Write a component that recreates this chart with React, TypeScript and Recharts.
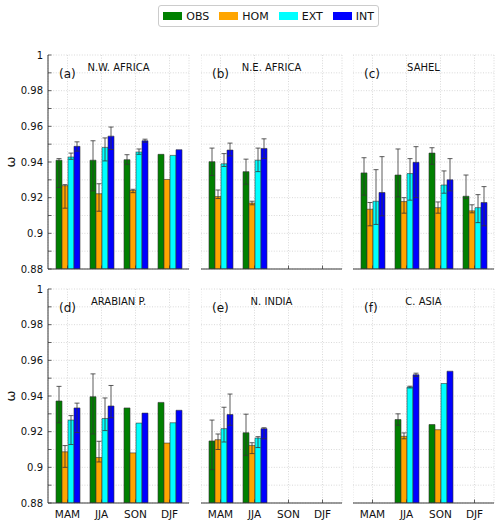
import React from 'react';
import { BarChart, Bar, XAxis, YAxis, CartesianGrid, ErrorBar } from 'recharts';

const seasons = ['MAM', 'JJA', 'SON', 'DJF'];
const seriesNames = ['OBS', 'HOM', 'EXT', 'INT'];
const seriesColors = ['#008000', '#FFA500', '#00FFFF', '#0000FF'];
const yTicks = [0.88, 0.89, 0.9, 0.91, 0.92, 0.93, 0.94, 0.95, 0.96, 0.97, 0.98, 0.99, 1];

type N = number | null;

// (a) N.W. AFRICA
const nwAfricaVal: N[][] = [
  [0.941, 0.941, 0.9413, 0.9443],
  [0.9267, 0.9222, 0.924, 0.9302],
  [0.9428, 0.9482, 0.9456, 0.9437],
  [0.9488, 0.9545, 0.9519, 0.9469],
];
const nwAfricaLow: N[][] = [
  [0.9257, 0.9238, 0.9387, null],
  [0.9141, 0.9124, 0.9228, null],
  [0.9415, 0.9406, 0.9443, null],
  [0.9461, 0.947, 0.9511, null],
];
const nwAfricaHigh: N[][] = [
  [0.9419, 0.9519, 0.9441, null],
  [0.9273, 0.9278, 0.9247, null],
  [0.945, 0.9535, 0.9473, null],
  [0.9513, 0.9596, 0.9528, null],
];

// (b) N.E. AFRICA
const neAfricaVal: N[][] = [
  [0.9402, 0.9346, null, null],
  [0.9206, 0.917, null, null],
  [0.939, 0.941, null, null],
  [0.9467, 0.9476, null, null],
];
const neAfricaLow: N[][] = [
  [0.9324, 0.9275, null, null],
  [0.9195, 0.916, null, null],
  [0.9375, 0.9346, null, null],
  [0.9434, 0.942, null, null],
];
const neAfricaHigh: N[][] = [
  [0.9478, 0.9416, null, null],
  [0.9243, 0.918, null, null],
  [0.9447, 0.9478, null, null],
  [0.9506, 0.953, null, null],
];

// (c) SAHEL
const sahelVal: N[][] = [
  [0.9339, 0.9327, 0.945, 0.9208],
  [0.9135, 0.9178, 0.9144, 0.9126],
  [0.918, 0.9335, 0.9271, 0.9144],
  [0.9229, 0.9398, 0.93, 0.9173],
];
const sahelLow: N[][] = [
  [0.9214, 0.9204, 0.9387, 0.9196],
  [0.9042, 0.9113, 0.9113, 0.9115],
  [0.905, 0.9186, 0.9225, 0.906],
  [0.9098, 0.92, 0.9238, 0.9042],
];
const sahelHigh: N[][] = [
  [0.9424, 0.9473, 0.948, 0.9327],
  [0.9173, 0.92, 0.9176, 0.916],
  [0.9357, 0.9419, 0.935, 0.9217],
  [0.943, 0.9486, 0.9419, 0.9262],
];

// (d) ARABIAN P.
const arabiaVal: N[][] = [
  [0.9372, 0.9396, 0.9333, 0.9364],
  [0.9087, 0.9055, 0.9081, 0.9136],
  [0.9265, 0.9274, 0.9248, 0.925],
  [0.9333, 0.9344, 0.9304, 0.932],
];
const arabiaLow: N[][] = [
  [0.925, 0.9187, null, null],
  [0.9, 0.903, null, null],
  [0.9128, 0.9206, null, null],
  [0.9195, 0.9278, null, null],
];
const arabiaHigh: N[][] = [
  [0.9454, 0.9524, null, null],
  [0.9122, 0.9146, null, null],
  [0.929, 0.9389, null, null],
  [0.936, 0.9459, null, null],
];

// (e) N. INDIA
const indiaVal: N[][] = [
  [0.9148, 0.9194, null, null],
  [0.9155, 0.9123, null, null],
  [0.9217, 0.9164, null, null],
  [0.9296, 0.9217, null, null],
];
const indiaLow: N[][] = [
  [0.8987, 0.9067, null, null],
  [0.91, 0.9077, null, null],
  [0.9142, 0.9111, null, null],
  [0.9236, 0.916, null, null],
];
const indiaHigh: N[][] = [
  [0.9265, 0.9298, null, null],
  [0.9187, 0.9138, null, null],
  [0.9337, 0.9172, null, null],
  [0.9411, 0.9222, null, null],
];

// (f) C. ASIA
const asiaVal: N[][] = [
  [null, 0.9268, 0.924, null],
  [null, 0.9174, 0.9211, null],
  [null, 0.945, 0.947, null],
  [null, 0.9519, 0.9539, null],
];
const asiaLow: N[][] = [
  [null, 0.9236, null, null],
  [null, 0.916, null, null],
  [null, 0.9445, null, null],
  [null, 0.951, null, null],
];
const asiaHigh: N[][] = [
  [null, 0.93, null, null],
  [null, 0.9193, null, null],
  [null, 0.9455, null, null],
  [null, 0.9528, null, null],
];

const panelTags = ['(a)', '(b)', '(c)', '(d)', '(e)', '(f)'];
const panelTitles = ['N.W. AFRICA', 'N.E. AFRICA', 'SAHEL', 'ARABIAN P.', 'N. INDIA', 'C. ASIA'];
const panelData = [
  [nwAfricaVal, nwAfricaLow, nwAfricaHigh],
  [neAfricaVal, neAfricaLow, neAfricaHigh],
  [sahelVal, sahelLow, sahelHigh],
  [arabiaVal, arabiaLow, arabiaHigh],
  [indiaVal, indiaLow, indiaHigh],
  [asiaVal, asiaLow, asiaHigh],
];

const FONT = '"DejaVu Sans", sans-serif';
const COL_LEFT = [48, 200.7, 353];
const ROW_TOP = [55.3, 288.9];
const PW = 141;
const PH = 214;
const MT = 8;
const FRAME = '#3a3a3a';

function buildRows(val: N[][], low: N[][], high: N[][]) {
  return seasons.map((s, i) => {
    const row: any = { season: s };
    seriesNames.forEach((name, k) => {
      const v = val[k][i];
      const lo = low[k][i];
      const hi = high[k][i];
      row[name] = v;
      row[name + '_err'] = v != null && lo != null && hi != null ? [v - lo, hi - v] : null;
    });
    return row;
  });
}

const fmt = (v: number) => String(Number(v.toFixed(2)));

function Panel({ idx }: { idx: number }) {
  const col = idx % 3;
  const row = Math.floor(idx / 3);
  const yw = col === 0 ? 48 : 0;
  const xh = row === 1 ? 22 : 4;
  const width = yw + PW + 2;
  const height = MT + PH + xh;
  const left = COL_LEFT[col] - yw;
  const top = ROW_TOP[row] - MT;
  const bottom = MT + PH;
  const [val, low, high] = panelData[idx];
  const data = buildRows(val, low, high);

  const yTick = (props: any) => {
    const { y, payload } = props;
    const v = payload.value as number;
    const major = Math.round(v * 100) % 2 === 0;
    return (
      <g>
        <line x1={yw} x2={yw + 3.5} y1={y} y2={y} stroke={FRAME} strokeWidth={0.8} />
        {col === 0 && major && (
          <text x={yw - 5} y={y} textAnchor="end" dominantBaseline="central" fontSize={10} fontFamily={FONT} fill="#111">
            {fmt(v)}
          </text>
        )}
      </g>
    );
  };

  const xTick = (props: any) => {
    const { x, payload } = props;
    return (
      <g>
        <line x1={x} x2={x} y1={bottom} y2={bottom - 3.5} stroke={FRAME} strokeWidth={0.8} />
        {row === 1 && (
          <text x={x} y={bottom + 10.5} textAnchor="middle" dominantBaseline="central" fontSize={10.5} fontFamily={FONT} fill="#111">
            {payload.value}
          </text>
        )}
      </g>
    );
  };

  return (
    <div style={{ position: 'absolute', left, top, width, height }}>
      <BarChart
        width={width}
        height={height}
        data={data}
        margin={{ top: MT, right: 2, bottom: 0, left: 0 }}
        barCategoryGap={5.5}
        barGap={0}
      >
        <CartesianGrid stroke="#cfcfcf" strokeDasharray="1 1.6" strokeWidth={0.8} />
        <XAxis
          dataKey="season"
          type="category"
          padding={{ left: 2.5, right: 2.5 }}
          height={xh}
          interval={0}
          tickLine={false}
          tickSize={0}
          tick={xTick}
          axisLine={{ stroke: FRAME, strokeWidth: 1 }}
        />
        <XAxis
          xAxisId="top"
          orientation="top"
          dataKey="season"
          height={0}
          tick={false}
          tickLine={false}
          axisLine={{ stroke: FRAME, strokeWidth: 1 }}
        />
        <YAxis
          type="number"
          domain={[0.88, 1]}
          ticks={yTicks}
          width={yw}
          interval={0}
          tickLine={false}
          tickSize={0}
          tick={yTick}
          axisLine={{ stroke: FRAME, strokeWidth: 1 }}
          allowDataOverflow
        />
        <YAxis
          yAxisId="right"
          orientation="right"
          type="number"
          domain={[0.88, 1]}
          width={0}
          tick={false}
          tickLine={false}
          axisLine={{ stroke: FRAME, strokeWidth: 1 }}
        />
        {seriesNames.map((name, k) => (
          <Bar
            key={name}
            dataKey={name}
            fill={seriesColors[k]}
            stroke="#333"
            strokeWidth={0.6}
            isAnimationActive={false}
          >
            <ErrorBar dataKey={name + '_err'} width={2.5} stroke="#333" strokeWidth={0.8} direction="y" />
          </Bar>
        ))}
        <text x={yw + 11} y={MT + 18.5} fontSize={12} fontFamily={FONT} dominantBaseline="central" fill="#111">
          {panelTags[idx]}
        </text>
        <text x={yw + PW / 2} y={MT + 12.5} fontSize={10} fontFamily={FONT} textAnchor="middle" dominantBaseline="central" fill="#111">
          {panelTitles[idx]}
        </text>
        {col === 0 && (
          <text
            x={10.5}
            y={MT + PH / 2}
            fontSize={13}
            fontFamily={FONT}
            textAnchor="middle"
            dominantBaseline="central"
            transform={`rotate(-90 10.5 ${MT + PH / 2})`}
            fill="#111"
          >
            ω
          </text>
        )}
      </BarChart>
    </div>
  );
}

function Legend() {
  return (
    <div
      style={{
        position: 'absolute',
        left: 158.3,
        top: 5,
        height: 20,
        border: '1px solid #cccccc',
        borderRadius: 3,
        display: 'flex',
        alignItems: 'center',
        paddingLeft: 4,
        paddingRight: 4,
        fontFamily: FONT,
        fontSize: 11,
        color: '#111',
        background: '#fff',
      }}
    >
      {seriesNames.map((name, k) => (
        <div key={name} style={{ display: 'flex', alignItems: 'center', marginRight: k < 3 ? 10 : 0 }}>
          <div style={{ width: 19, height: 8, background: seriesColors[k], marginRight: 4 }} />
          <span>{name}</span>
        </div>
      ))}
    </div>
  );
}

export default function App() {
  return (
    <div style={{ position: 'absolute', left: 0, top: 0, width: 500, height: 523, background: '#fff' }}>
      <Legend />
      {[0, 1, 2, 3, 4, 5].map((i) => (
        <Panel key={i} idx={i} />
      ))}
    </div>
  );
}
